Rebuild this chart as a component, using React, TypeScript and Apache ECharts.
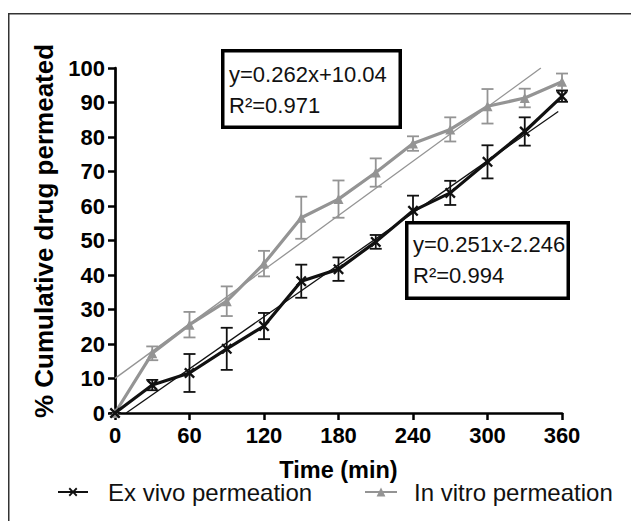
import React, { useEffect, useRef } from "react";
import * as echarts from "echarts";

const FONT = "'Liberation Sans', Arial, Helvetica, sans-serif";

const times = [0, 30, 60, 90, 120, 150, 180, 210, 240, 270, 300, 330, 360];
const exVivo = [0, 8.1, 11.6, 18.6, 25.2, 38.2, 41.7, 49.6, 58.6, 63.8, 72.8, 81.6, 91.8];
const exVivoErr = [0, 1.5, 5.5, 6.1, 3.8, 4.8, 3.4, 2.0, 4.4, 3.5, 4.8, 4.1, 1.6];
const inVitro = [0, 17.3, 25.6, 32.4, 43.3, 56.6, 62.0, 69.7, 78.1, 82.2, 88.9, 91.3, 96.0];
const inVitroErr = [0, 2.0, 3.7, 4.3, 3.7, 6.1, 5.4, 4.1, 2.1, 3.5, 5.0, 2.7, 2.4];

// regression line end points as drawn in the figure
const exVivoFit = [[9, 0], [357, 87.4]];
const inVitroFit = [[0, 10.04], [343, 100]];

const exVivoName = "Ex vivo permeation";
const inVitroName = "In vitro permeation";
const yTitle = "% Cumulative drug permeated";
const xTitle = "Time (min)";
const eqInVitro = ["y=0.262x+10.04", "R\u00b2=0.971"];
const eqExVivo = ["y=0.251x-2.246", "R\u00b2=0.994"];

const xTicks = { min: 0, max: 360, interval: 60 };
const yTicks = { min: 0, max: 100, interval: 10 };

const BLACK = "#111";
const GRAY = "#949494";

const X_SYMBOL =
  "path://M1.5,0 L5,3.5 L8.5,0 L10,1.5 L6.5,5 L10,8.5 L8.5,10 L5,6.5 L1.5,10 L0,8.5 L3.5,5 L0,1.5 Z";

function errData(vals: number[], errs: number[]) {
  return times.map((t, i) => [t, vals[i] - errs[i], vals[i] + errs[i]]);
}

function errSeries(name: string, vals: number[], errs: number[], color: string) {
  return {
    type: "custom",
    name: name + " err",
    z: 3,
    data: errData(vals, errs),
    encode: { x: 0, y: [1, 2] },
    renderItem: (params: any, api: any) => {
      const x = api.value(0);
      const lo = api.coord([x, api.value(1)]);
      const hi = api.coord([x, api.value(2)]);
      const w = 6;
      const style = { stroke: color, lineWidth: 1.8 };
      return {
        type: "group",
        children: [
          { type: "line", shape: { x1: lo[0], y1: lo[1], x2: hi[0], y2: hi[1] }, style },
          { type: "line", shape: { x1: lo[0] - w, y1: lo[1], x2: lo[0] + w, y2: lo[1] }, style },
          { type: "line", shape: { x1: hi[0] - w, y1: hi[1], x2: hi[0] + w, y2: hi[1] }, style },
        ],
      };
    },
  };
}

function boxGraphic(x: number, y: number, w: number, h: number, lines: string[], tx: number, ty: number) {
  const textStyle = (t: string) => ({
    text: t,
    font: `22px ${FONT}`,
    fill: "#111",
    textAlign: "left",
    textVerticalAlign: "middle",
  });
  return [
    {
      type: "rect",
      z: 100,
      shape: { x, y, width: w, height: h },
      style: { fill: "#fff", stroke: "#000", lineWidth: 3.5 },
    },
    { type: "text", z: 101, x: tx, y: ty, style: textStyle(lines[0]) },
    { type: "text", z: 101, x: tx, y: ty + 31, style: textStyle(lines[1]) },
  ];
}

export default function App() {
  const ref = useRef<HTMLDivElement>(null);
  useEffect(() => {
    if (!ref.current) return;
    const chart = echarts.init(ref.current, undefined, { renderer: "svg" });
    const axisLine = { show: true, lineStyle: { color: "#000", width: 2.7 } };
    const axisTick = { show: true, length: 7, lineStyle: { color: "#000", width: 2.5 } };
    const axisLabel = {
      fontSize: 22,
      fontWeight: "bold",
      color: "#000",
      fontFamily: FONT,
    };
    const option: any = {
      animation: false,
      backgroundColor: "#fff",
      grid: { left: 115, right: 69, top: 68, bottom: 108 },
      xAxis: {
        type: "value",
        ...xTicks,
        name: xTitle,
        nameLocation: "middle",
        nameGap: 45,
        nameTextStyle: { fontSize: 23.5, fontWeight: "bold", color: "#000", fontFamily: FONT },
        axisLine,
        axisTick,
        axisLabel: { ...axisLabel, margin: 11 },
        splitLine: { show: false },
      },
      yAxis: {
        type: "value",
        ...yTicks,
        axisLine,
        axisTick,
        axisLabel: { ...axisLabel, margin: 10 },
        splitLine: { show: false },
      },
      legend: [
        {
          data: [exVivoName],
          left: 57,
          top: 480,
          padding: 0,
          itemWidth: 30,
          itemHeight: 11,
          textStyle: { fontSize: 24, color: "#111", fontFamily: FONT, padding: [0, 0, 0, 15] },
        },
        {
          data: [inVitroName],
          left: 364,
          top: 480,
          padding: 0,
          itemWidth: 32,
          itemHeight: 11,
          textStyle: { fontSize: 24, color: "#111", fontFamily: FONT, padding: [0, 0, 0, 12] },
        },
      ],
      graphic: [
        {
          type: "rect",
          z: 0,
          silent: true,
          shape: { x: 8.75, y: 13.75, width: 900, height: 900 },
          style: { fill: "none", stroke: "#333", lineWidth: 1.5 },
        },
        {
          type: "text",
          z: 10,
          x: 44,
          y: 231,
          rotation: Math.PI / 2,
          style: {
            text: yTitle,
            font: `bold 26px ${FONT}`,
            fill: "#000",
            textAlign: "center",
            textVerticalAlign: "middle",
          },
        },
        ...boxGraphic(222.75, 50.75, 177.5, 76.5, eqInVitro, 229, 74),
        ...boxGraphic(406.75, 222.75, 161.5, 75.5, eqExVivo, 413, 244),
      ],
      series: [
        {
          type: "line",
          name: "fit in vitro",
          data: inVitroFit,
          symbol: "none",
          lineStyle: { color: GRAY, width: 1.3 },
          z: 1,
        },
        {
          type: "line",
          name: "fit ex vivo",
          data: exVivoFit,
          symbol: "none",
          lineStyle: { color: BLACK, width: 1.3 },
          z: 1,
        },
        errSeries(inVitroName, inVitro, inVitroErr, GRAY),
        errSeries(exVivoName, exVivo, exVivoErr, BLACK),
        {
          type: "line",
          name: inVitroName,
          data: times.map((t, i) => [t, inVitro[i]]),
          symbol: "triangle",
          symbolSize: 10,
          itemStyle: { color: GRAY },
          lineStyle: { color: GRAY, width: 3.2 },
          z: 4,
        },
        {
          type: "line",
          name: exVivoName,
          data: times.map((t, i) => [t, exVivo[i]]),
          symbol: X_SYMBOL,
          symbolSize: 11,
          itemStyle: { color: BLACK },
          lineStyle: { color: BLACK, width: 3.2 },
          z: 5,
        },
      ],
    };
    chart.setOption(option);
    return () => chart.dispose();
  }, []);
  return (
    <div
      ref={ref}
      style={{ position: "fixed", left: 0, top: 0, width: 631, height: 521, background: "#fff" }}
    />
  );
}
